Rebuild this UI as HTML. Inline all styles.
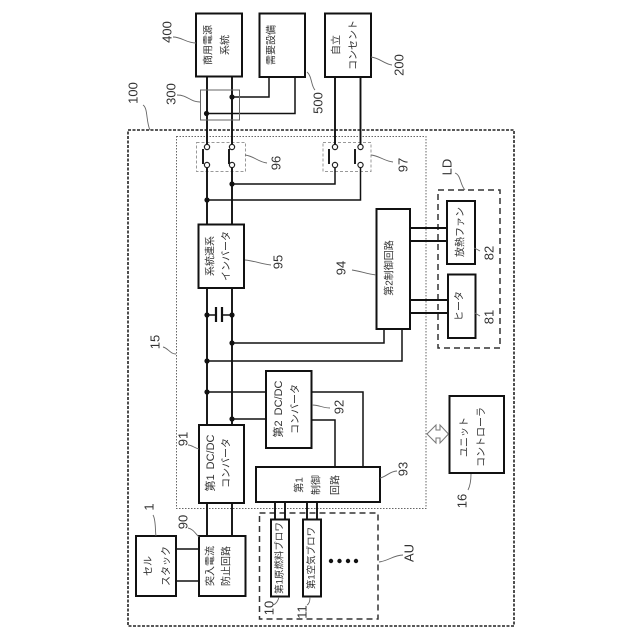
<!DOCTYPE html>
<html><head><meta charset="utf-8">
<style>
html,body{margin:0;padding:0;background:#fff;width:640px;height:640px;overflow:hidden}
svg{display:block;filter:blur(0.35px)}
text{font-family:"Liberation Sans","Noto Sans CJK JP",sans-serif;text-anchor:middle;dominant-baseline:central}
.j{font-size:10px;fill:#333}
.n{font-size:13px;fill:#333}
.b{fill:#fff;stroke:#111;stroke-width:2}
.w{fill:none;stroke:#111;stroke-width:1.9}
.x{fill:none;stroke:#111;stroke-width:1.5}
.l{fill:none;stroke:#666;stroke-width:.9}
.c{fill:#fff;stroke:#222;stroke-width:1.2}
</style></head><body>
<svg width="640" height="640" viewBox="0 0 640 640" xmlns="http://www.w3.org/2000/svg">
<rect width="640" height="640" fill="#fff"/>
<!-- dashed containers -->
<rect x="128" y="130" width="386" height="496" fill="none" stroke="#222" stroke-width="1.6" stroke-dasharray="3 1.5"/>
<rect x="176.5" y="136.5" width="249.5" height="372" fill="none" stroke="#666" stroke-width="1" stroke-dasharray="1.5 1.5"/>
<rect x="196.5" y="142.5" width="49" height="29" fill="none" stroke="#999" stroke-width="1" stroke-dasharray="3 2"/>
<rect x="323" y="142.5" width="48" height="29" fill="none" stroke="#999" stroke-width="1" stroke-dasharray="3 2"/>
<rect x="438" y="190" width="62" height="158" fill="none" stroke="#333" stroke-width="1.5" stroke-dasharray="6 4"/>
<rect x="259.5" y="513" width="118.5" height="106" fill="none" stroke="#333" stroke-width="1.5" stroke-dasharray="6 4"/>
<!-- wires -->
<path class="w" d="M207 76V144M232 76V144M207 168V425M232 168V425M207 503V536M232 503V536"/>
<path class="w" d="M335 77V144M360.5 77V144"/>
<path class="x" d="M335 168V184H232M360.5 168V200H207"/>
<path class="x" d="M269 77V97H232M295 77V113.5H207"/>
<path class="x" d="M207 315H216M222 315H232M232 343H384V329M207 361H402V329"/>
<path class="x" d="M207 392H266M232 419H266M311 392H363V467M311 420H335V467"/>
<path class="x" d="M176 549H199M176 581H199"/>
<path class="w" d="M275 502V519M285 502V519M307 502V519M317 502V519"/>
<path class="w" d="M410 228H447M410 241H447M410 300H448M410 313H448"/>
<path d="M216 307V322M222 307V322" fill="none" stroke="#111" stroke-width="2.2"/>
<rect x="200.5" y="90" width="39" height="30" fill="none" stroke="#666" stroke-width="1"/>
<!-- switches -->
<path class="w" d="M203 149V164M229 149V164M329 149V164M355 149V164"/>
<g class="c">
<circle cx="207" cy="147" r="2.6"/><circle cx="207" cy="165" r="2.6"/>
<circle cx="232" cy="147" r="2.6"/><circle cx="232" cy="165" r="2.6"/>
<circle cx="335" cy="147" r="2.6"/><circle cx="335" cy="165" r="2.6"/>
<circle cx="360.5" cy="147" r="2.6"/><circle cx="360.5" cy="165" r="2.6"/>
</g>
<!-- dots -->
<g fill="#111">
<circle cx="232" cy="97" r="2.6"/><circle cx="206.5" cy="113.5" r="2.6"/>
<circle cx="232" cy="184" r="2.6"/><circle cx="207" cy="200" r="2.6"/>
<circle cx="207" cy="315" r="2.6"/><circle cx="232" cy="315" r="2.6"/>
<circle cx="232" cy="343" r="2.6"/><circle cx="207" cy="361" r="2.6"/>
<circle cx="207" cy="392" r="2.6"/><circle cx="232" cy="419" r="2.6"/>
<circle cx="331" cy="561" r="2.2"/><circle cx="339.5" cy="561" r="2.2"/>
<circle cx="348" cy="561" r="2.2"/><circle cx="356" cy="561" r="2.2"/>
</g>
<!-- boxes -->
<rect class="b" x="196" y="13.5" width="46" height="63"/>
<rect class="b" x="259.5" y="13.5" width="45.5" height="63.5"/>
<rect class="b" x="325" y="13.5" width="46" height="63.5"/>
<rect class="b" x="198.5" y="224.5" width="45.5" height="63.5"/>
<rect class="b" x="376.5" y="209" width="33.5" height="120"/>
<rect class="b" x="266" y="371" width="45.5" height="77"/>
<rect class="b" x="199" y="425" width="45" height="78"/>
<rect class="b" x="256" y="467" width="124" height="35"/>
<rect class="b" x="199" y="536" width="46.5" height="60"/>
<rect class="b" x="136" y="536" width="40" height="60"/>
<rect class="b" x="271" y="519.5" width="18" height="77"/>
<rect class="b" x="303" y="519.5" width="18" height="77"/>
<rect class="b" x="447" y="201" width="28" height="63"/>
<rect class="b" x="448" y="274.5" width="27.5" height="63.5"/>
<rect class="b" x="449.5" y="396" width="54.5" height="77"/>
<!-- bidirectional arrow -->
<path d="M427 434L436 425V430H440V425L448.5 434L440 443V438H436V443Z" fill="#fff" stroke="#777" stroke-width="1"/>
<!-- leaders -->
<g class="l">
<path d="M173 37C182 37 186 43 196 43"/>
<path d="M177 95C188 95 190 102 200 102"/>
<path d="M143 105C148 108 146 122 150 130"/>
<path d="M307 72C312 76 311 86 315 90"/>
<path d="M371 57C380 58 384 64 392 65"/>
<path d="M245 155C254 156 258 162 267 163"/>
<path d="M371 155C380 156 384 161 393 162"/>
<path d="M245 260C255 261 262 264 271 265"/>
<path d="M352 270C360 271 367 274 376 275"/>
<path d="M312 405C320 405 322 408 330 408"/>
<path d="M188 445C192 445 194 448 199 449"/>
<path d="M380 478C386 477 390 471 397 471"/>
<path d="M188 528C193 529 195 533 199 537"/>
<path d="M153 515C156 520 155 530 156 536"/>
<path d="M279 597C278 601 276 604 273 605"/>
<path d="M310 597C310 601 309 604 307 605"/>
<path d="M379 562C388 561 394 555 403 555"/>
<path d="M455 173C461 175 460 185 465 190"/>
<path d="M474 248C477 249 478 250 480 251"/>
<path d="M475 313C477 314 478 315 480 316"/>
<path d="M471 474C471 480 470 486 468 490"/>
<path d="M163 347C168 348 170 354 176 354"/>
</g>
<!-- box labels -->
<g class="j">
<text x="209" y="45" transform="rotate(-90 209 45)">商用電源</text>
<text x="226" y="45" transform="rotate(-90 226 45)">系統</text>
<text x="272" y="45" transform="rotate(-90 272 45)">需要設備</text>
<text x="337" y="45" transform="rotate(-90 337 45)">自立</text>
<text x="354" y="45" transform="rotate(-90 354 45)">コンセント</text>
<text x="211" y="256" transform="rotate(-90 211 256)">系統連系</text>
<text x="227" y="256" transform="rotate(-90 227 256)">インバータ</text>
<text x="390" y="268" transform="rotate(-90 390 268)">第2制御回路</text>
<text x="279" y="409" transform="rotate(-90 279 409)" style="font-size:11px;word-spacing:2px">第2 DC/DC</text>
<text x="296" y="409" transform="rotate(-90 296 409)">コンバータ</text>
<text x="211" y="463" transform="rotate(-90 211 463)" style="font-size:11px;word-spacing:2px">第1 DC/DC</text>
<text x="227" y="463" transform="rotate(-90 227 463)">コンバータ</text>
<text x="300" y="485" transform="rotate(-90 300 485)">第1</text>
<text x="317" y="485" transform="rotate(-90 317 485)">制御</text>
<text x="336" y="485" transform="rotate(-90 336 485)">回路</text>
<text x="211" y="566" transform="rotate(-90 211 566)">突入電流</text>
<text x="227" y="566" transform="rotate(-90 227 566)">防止回路</text>
<text x="149" y="566" transform="rotate(-90 149 566)">セル</text>
<text x="167" y="566" transform="rotate(-90 167 566)">スタック</text>
<text x="280" y="558" transform="rotate(-90 280 558)" style="font-size:9.5px">第1原燃料ブロワ</text>
<text x="312" y="558" transform="rotate(-90 312 558)" style="font-size:9.5px">第1空気ブロワ</text>
<text x="461" y="232" transform="rotate(-90 461 232)">放熱ファン</text>
<text x="460" y="306" transform="rotate(-90 460 306)">ヒータ</text>
<text x="465" y="437" transform="rotate(-90 465 437)">ユニット</text>
<text x="482" y="437" transform="rotate(-90 482 437)">コントローラ</text>
</g>
<!-- reference numerals -->
<g class="n">
<text x="167" y="32" transform="rotate(-90 167 32)">400</text>
<text x="171" y="94" transform="rotate(-90 171 94)">300</text>
<text x="133" y="93" transform="rotate(-90 133 93)">100</text>
<text x="318" y="103" transform="rotate(-90 318 103)">500</text>
<text x="399" y="65" transform="rotate(-90 399 65)">200</text>
<text x="276" y="163" transform="rotate(-90 276 163)">96</text>
<text x="403" y="165" transform="rotate(-90 403 165)">97</text>
<text x="278" y="262" transform="rotate(-90 278 262)">95</text>
<text x="341" y="268" transform="rotate(-90 341 268)">94</text>
<text x="339" y="407" transform="rotate(-90 339 407)">92</text>
<text x="183" y="439" transform="rotate(-90 183 439)">91</text>
<text x="403" y="469" transform="rotate(-90 403 469)">93</text>
<text x="183" y="522" transform="rotate(-90 183 522)">90</text>
<text x="149" y="507" transform="rotate(-90 149 507)">1</text>
<text x="269" y="608" transform="rotate(-90 269 608)">10</text>
<text x="302" y="612" transform="rotate(-90 302 612)">11</text>
<text x="409" y="553" transform="rotate(-90 409 553)">AU</text>
<text x="447" y="167" transform="rotate(-90 447 167)">LD</text>
<text x="489" y="253" transform="rotate(-90 489 253)">82</text>
<text x="489" y="317" transform="rotate(-90 489 317)">81</text>
<text x="462" y="501" transform="rotate(-90 462 501)">16</text>
<text x="155" y="342" transform="rotate(-90 155 342)">15</text>
</g>
</svg>
</body></html>
